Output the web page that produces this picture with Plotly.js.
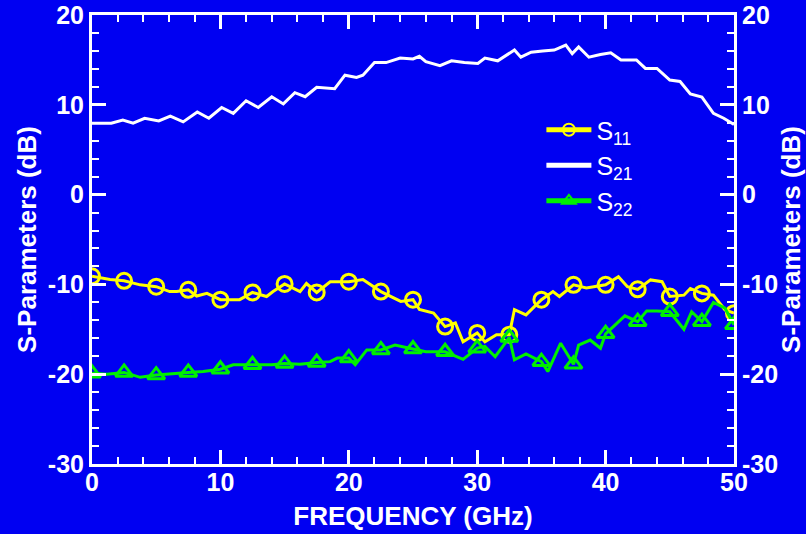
<!DOCTYPE html>
<html>
<head>
<meta charset="utf-8">
<script src="https://cdn.plot.ly/plotly-3.0.1.min.js"></script>
<style>
  html, body { margin: 0; padding: 0; background: #0000F2; }
  #chart { width: 806px; height: 534px; }
</style>
</head>
<body>
<div id="chart"></div>
<script>
// ---- Data ----
const freq21 = [0, 1.5, 2.4, 3.2, 4.1, 5.2, 6.1, 7.1, 8.2, 9.1, 10.1, 11.0, 12.0, 12.95, 14.0, 14.9, 15.8, 16.6, 17.5, 18.9, 19.7, 20.6, 21.1, 22.0, 22.9, 24.0, 25.0, 25.5, 26.0, 27.1, 28.0, 29.0, 30.05, 30.6, 31.6, 32.9, 33.4, 34.2, 35.1, 36.0, 36.9, 37.4, 37.9, 38.7, 39.6, 40.4, 41.2, 42.4, 43.1, 44.0, 45.0, 45.8, 46.6, 47.5, 48.4, 49.2, 50.0];
const s21 = [7.95, 7.95, 8.3, 7.95, 8.5, 8.2, 8.75, 8.1, 9.2, 8.5, 9.7, 9.05, 10.45, 9.7, 10.9, 10.1, 11.35, 10.9, 11.95, 11.8, 13.3, 13.05, 13.3, 14.7, 14.7, 15.2, 15.1, 15.4, 14.8, 14.35, 14.9, 14.7, 14.6, 15.2, 14.9, 16.1, 15.3, 15.85, 16.0, 16.1, 16.65, 15.7, 16.45, 15.3, 15.6, 15.8, 15.0, 15.0, 14.05, 14.05, 12.75, 12.6, 11.2, 10.85, 9.05, 8.5, 7.8];

const freq11 = [0, 1.4, 2.5, 3.75, 5.0, 6.05, 6.6, 7.5, 8.15, 8.95, 10.0, 11.5, 12.5, 13.6, 14.1, 15.0, 16.2, 16.7, 17.5, 18.55, 20.0, 21.1, 22.5, 24.05, 25.0, 25.5, 26.6, 27.5, 28.3, 28.9, 30.0, 30.6, 31.5, 32.5, 32.9, 33.8, 35.0, 35.9, 36.4, 37.5, 38.5, 40.0, 41.0, 41.7, 42.5, 43.5, 44.4, 45.0, 46.1, 46.6, 47.5, 48.4, 49.3, 50.0];
const s11 = [-9.1, -9.45, -9.6, -10.05, -10.25, -10.8, -10.8, -10.6, -11.3, -11.0, -11.7, -11.7, -10.9, -11.35, -10.8, -9.95, -10.8, -9.9, -10.9, -9.7, -9.7, -9.45, -10.8, -11.9, -11.7, -12.8, -13.2, -14.7, -14.3, -16.4, -15.4, -16.4, -15.6, -15.6, -12.8, -13.4, -11.7, -10.8, -11.35, -10.05, -10.4, -10.05, -9.15, -10.25, -10.55, -9.5, -9.7, -11.35, -11.2, -10.45, -11.0, -11.2, -12.85, -13.2];

const freq22 = [0, 1.15, 2.5, 3.75, 5.0, 6.05, 7.5, 8.65, 10.0, 11.0, 12.5, 14.0, 15.0, 16.2, 17.5, 18.55, 19.1, 20.0, 20.5, 21.4, 22.5, 23.6, 25.0, 26.0, 27.5, 28.9, 30.0, 30.6, 31.4, 32.5, 32.9, 33.8, 35.0, 35.5, 36.5, 37.5, 37.9, 38.8, 39.6, 40.0, 41.5, 42.5, 43.2, 44.0, 45.0, 46.1, 46.7, 47.5, 48.4, 49.3, 50.0];
const s22 = [-19.9, -20.0, -19.8, -20.35, -20.1, -19.95, -19.8, -19.7, -19.45, -18.95, -18.95, -18.95, -18.8, -18.9, -18.7, -18.6, -18.2, -18.2, -18.95, -17.3, -17.3, -16.75, -17.2, -17.5, -17.5, -18.35, -17.1, -16.9, -18.05, -15.9, -18.4, -17.75, -18.6, -19.7, -16.55, -18.9, -16.75, -16.2, -17.1, -15.5, -13.5, -14.15, -12.95, -12.95, -13.05, -15.0, -13.05, -14.15, -12.0, -12.65, -14.5];

const seriesNames = ['S<sub>11</sub>', 'S<sub>21</sub>', 'S<sub>22</sub>'];
const xTickVals = [0, 10, 20, 30, 40, 50];
const xTickText = ['0', '10', '20', '30', '40', '50'];
const yTickVals = [-30, -20, -10, 0, 10, 20];
const yTickText = ['-30', '-20', '-10', '0', '10', '20'];
const markerEvery = 2.5; // GHz spacing of the plotted symbols

// ---- Styling ----
const BG = '#0000F2';
const WHITE = '#FFFFFF';
const YELLOW = '#FFFF00';
const GREEN = '#00F000';
const FONT = 'Liberation Sans, Arial, Helvetica, sans-serif';

function onGrid(f) { return Math.abs(f / markerEvery - Math.round(f / markerEvery)) < 1e-6; }
function sizes(xs, s) { return xs.map(f => onGrid(f) ? s : 0); }
function widths(xs, w) { return xs.map(f => onGrid(f) ? w : 0); }

const traces = [
  {
    x: freq11, y: s11, name: seriesNames[0], type: 'scatter', mode: 'lines+markers',
    legendgroup: 'a',
    line: { color: YELLOW, width: 3 },
    marker: { symbol: 'circle-open', color: YELLOW, opacity: 1, size: sizes(freq11, 15),
              line: { color: YELLOW, width: widths(freq11, 3) } }
  },
  {
    x: freq21, y: s21, name: seriesNames[1], type: 'scatter', mode: 'lines',
    yaxis: 'y2',
    legendgroup: 'b',
    line: { color: WHITE, width: 3 }
  },
  {
    x: freq22, y: s22, name: seriesNames[2], type: 'scatter', mode: 'lines+markers',
    legendgroup: 'c',
    line: { color: GREEN, width: 3 },
    marker: { symbol: 'triangle-up-open', color: GREEN, opacity: 1, size: sizes(freq22, 15),
              line: { color: GREEN, width: widths(freq22, 3) } }
  }
];

const tickFont = { family: FONT, size: 25, color: WHITE, weight: 'bold' };
const titleFont = { family: FONT, size: 26, color: WHITE, weight: 'bold' };

const yCommon = {
  range: [-30, 20],
  tickvals: yTickVals, ticktext: yTickText, tickmode: 'array',
  ticks: 'inside', ticklen: 14, tickwidth: 3, tickcolor: WHITE,
  minor: { dtick: 2, ticks: 'inside', ticklen: 7, tickwidth: 2, tickcolor: WHITE },
  showline: true, linecolor: WHITE, linewidth: 3,
  showgrid: false, zeroline: false,
  tickfont: tickFont,
  automargin: false,
  fixedrange: true
};

const layout = {
  width: 806, height: 534,
  paper_bgcolor: BG, plot_bgcolor: BG,
  margin: { l: 92, r: 72, t: 15, b: 70 },
  showlegend: true,
  legend: {
    x: 0.70, y: 0.795, xanchor: 'left', yanchor: 'top',
    bgcolor: 'rgba(0,0,0,0)', borderwidth: 0,
    font: { family: FONT, size: 25, color: WHITE },
    itemsizing: 'constant', itemwidth: 45,
    tracegroupgap: 13, traceorder: 'normal'
  },
  xaxis: {
    range: [0, 50],
    tickvals: xTickVals, ticktext: xTickText, tickmode: 'array',
    ticks: 'inside', ticklen: 14, tickwidth: 3, tickcolor: WHITE,
    minor: { dtick: 2, ticks: 'inside', ticklen: 7, tickwidth: 2, tickcolor: WHITE },
    showline: true, linecolor: WHITE, linewidth: 3, mirror: 'ticks',
    showgrid: false, zeroline: false,
    tickfont: tickFont,
    ticklabelstandoff: -6,
    title: { text: 'FREQUENCY (GHz)', font: titleFont, standoff: 12 },
    automargin: false, fixedrange: true
  },
  yaxis: Object.assign({}, yCommon, {
    side: 'left',
    title: { text: 'S-Parameters (dB)', font: titleFont, standoff: 4 }
  }),
  yaxis2: Object.assign({}, yCommon, {
    side: 'right', overlaying: 'y', anchor: 'x',
    title: { text: 'S-Parameters (dB)', font: titleFont, standoff: 4 }
  })
};

Plotly.newPlot('chart', traces, layout, { staticPlot: true, displayModeBar: false });
</script>
</body>
</html>
